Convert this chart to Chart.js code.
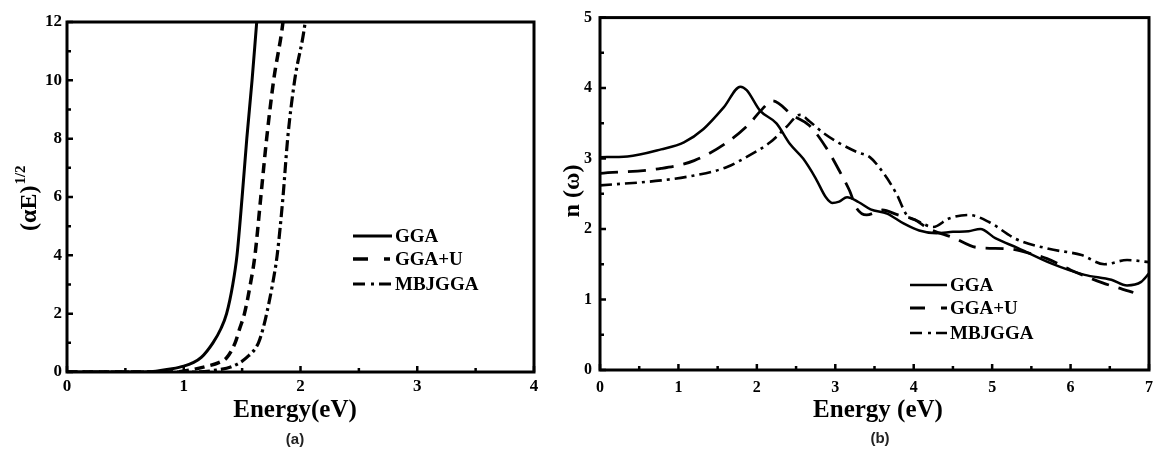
<!DOCTYPE html>
<html><head><meta charset="utf-8">
<script src="https://cdn.jsdelivr.net/npm/chart.js@4/dist/chart.umd.min.js"></script>
<style>
html,body{margin:0;padding:0;background:#fff;width:1161px;height:463px;overflow:hidden;}
canvas{position:absolute;top:0;}
.cap{position:absolute;font-family:"Liberation Sans",Arial,sans-serif;font-weight:bold;font-size:15px;color:#222;transform:translate(-50%,-50%);}
</style></head><body>
<canvas id="ca" width="560" height="463" style="left:0px"></canvas>
<canvas id="cb" width="601" height="463" style="left:560px"></canvas>
<div class="cap" style="left:295px;top:438px">(a)</div>
<div class="cap" style="left:880px;top:437px">(b)</div>
<script>
// ---------- Panel (a): (alpha E)^1/2 vs Energy ----------
const seriesNames = ['GGA', 'GGA+U', 'MBJGGA'];
const aXTicks = [0, 1, 2, 3, 4];
const aYTicks = [0, 2, 4, 6, 8, 10, 12];
const aGGA_E = [0, 0.5, 0.7, 0.8, 0.9, 1.0, 1.08, 1.15, 1.25, 1.32, 1.367, 1.42, 1.456, 1.5, 1.54, 1.585, 1.625, 1.65];
const aGGA_V = [0, 0, 0.01, 0.05, 0.11, 0.2, 0.32, 0.5, 1.0, 1.5, 2.0, 3.0, 4.0, 6.0, 8.0, 10.0, 12.0, 13.2];
const aGGAU_E = [0, 0.9, 1.03, 1.2, 1.3, 1.37, 1.44, 1.48, 1.52, 1.57, 1.61, 1.66, 1.71, 1.77, 1.85, 1.88];
const aGGAU_V = [0, 0, 0.05, 0.2, 0.32, 0.5, 1.0, 1.5, 2.0, 3.0, 4.0, 6.0, 8.0, 10.0, 12.0, 13.2];
const aMBJ_E = [0, 1.1, 1.25, 1.42, 1.54, 1.64, 1.68, 1.71, 1.76, 1.8, 1.85, 1.89, 1.95, 2.04, 2.07];
const aMBJ_V = [0, 0, 0.05, 0.2, 0.5, 1.0, 1.5, 2.0, 3.0, 4.0, 6.0, 8.0, 10.0, 12.0, 13.2];

// ---------- Panel (b): n(omega) vs Energy ----------
const bXTicks = [0, 1, 2, 3, 4, 5, 6, 7];
const bYTicks = [0, 1, 2, 3, 4, 5];
const bGGA_E = [0, 0.35, 0.78, 1.07, 1.32, 1.58, 1.79, 1.87, 2.04, 2.25, 2.42, 2.59, 2.75, 2.88, 2.96, 3.05, 3.15, 3.3, 3.45, 3.66, 3.87, 4.07, 4.29, 4.5, 4.7, 4.85, 5.04, 5.33, 5.76, 6.18, 6.52, 6.72, 6.9, 7.0];
const bGGA_N = [3.02, 3.03, 3.13, 3.23, 3.42, 3.73, 4.02, 3.97, 3.68, 3.5, 3.21, 3.0, 2.72, 2.45, 2.37, 2.39, 2.45, 2.38, 2.28, 2.22, 2.08, 1.98, 1.94, 1.96, 1.97, 2.0, 1.87, 1.73, 1.51, 1.35, 1.28, 1.2, 1.25, 1.37];
const bGGAU_E = [0, 0.78, 1.2, 1.62, 1.91, 2.05, 2.2, 2.46, 2.67, 2.88, 3.05, 3.18, 3.27, 3.4, 3.6, 3.8, 4.0, 4.2, 4.5, 4.8, 5.2, 5.5, 5.7, 6.0, 6.4, 6.8];
const bGGAU_N = [2.79, 2.86, 2.97, 3.23, 3.5, 3.68, 3.82, 3.61, 3.47, 3.16, 2.83, 2.55, 2.3, 2.2, 2.27, 2.2, 2.14, 2.0, 1.88, 1.74, 1.72, 1.65, 1.58, 1.42, 1.24, 1.1];
const bMBJ_E = [0, 0.78, 1.2, 1.62, 1.91, 2.17, 2.37, 2.55, 2.67, 2.84, 3.05, 3.28, 3.44, 3.61, 3.78, 3.91, 4.04, 4.25, 4.45, 4.7, 4.96, 5.3, 5.72, 6.14, 6.43, 6.72, 7.0];
const bMBJ_N = [2.62, 2.69, 2.76, 2.88, 3.05, 3.23, 3.44, 3.62, 3.53, 3.37, 3.22, 3.09, 3.02, 2.8, 2.5, 2.2, 2.12, 2.03, 2.15, 2.2, 2.1, 1.86, 1.72, 1.63, 1.5, 1.56, 1.53];

const SERIF = '"Liberation Serif","Times New Roman",serif';
const pts = (xs, ys) => xs.map((x, i) => ({x: x, y: ys[i]}));

function makeDataset(label, xs, ys, dash, width) {
  return {label: label, data: pts(xs, ys), borderColor: '#000', backgroundColor: '#000',
    borderWidth: width, borderDash: dash, pointRadius: 0, fill: false,
    cubicInterpolationMode: 'monotone', tension: 0.4, borderCapStyle: 'butt'};
}

// plugin: frame, inward ticks, custom legend, custom titles
const decor = {
  id: 'decor',
  afterDraw(chart, args, opts) {
    const ctx = chart.ctx, a = chart.chartArea;
    const xs = chart.scales.x, ys = chart.scales.y;
    ctx.save();
    ctx.strokeStyle = '#000';
    ctx.lineWidth = 3;
    ctx.strokeRect(a.left, a.top, a.right - a.left, a.bottom - a.top);
    ctx.lineWidth = 2.5;
    const xt = opts.xTicks, yt = opts.yTicks;
    ctx.beginPath();
    for (let i = 0; i < xt.length; i++) {
      const p = xs.getPixelForValue(xt[i]);
      ctx.moveTo(p, a.bottom); ctx.lineTo(p, a.bottom - 6);
      if (i < xt.length - 1) {
        const m = xs.getPixelForValue((xt[i] + xt[i + 1]) / 2);
        ctx.moveTo(m, a.bottom); ctx.lineTo(m, a.bottom - 4);
      }
    }
    for (let i = 0; i < yt.length; i++) {
      const p = ys.getPixelForValue(yt[i]);
      ctx.moveTo(a.left, p); ctx.lineTo(a.left + 6, p);
      if (i < yt.length - 1) {
        const m = ys.getPixelForValue((yt[i] + yt[i + 1]) / 2);
        ctx.moveTo(a.left, m); ctx.lineTo(a.left + 4, m);
      }
    }
    ctx.stroke();
    // legend
    const L = opts.legend;
    ctx.font = 'bold ' + L.size + 'px ' + SERIF;
    ctx.textBaseline = 'middle';
    ctx.textAlign = 'left';
    chart.data.datasets.forEach((ds, i) => {
      const y = L.ys[i];
      ctx.beginPath();
      ctx.setLineDash(L.dashes[i]);
      ctx.lineWidth = ds.borderWidth;
      ctx.moveTo(L.x0, y); ctx.lineTo(L.x1, y);
      ctx.stroke();
      ctx.setLineDash([]);
      ctx.fillStyle = '#000';
      ctx.fillText(ds.label, L.x1 + 3, y + 1);
    });
    // x title
    ctx.font = 'bold 25px ' + SERIF;
    ctx.textAlign = 'center';
    ctx.textBaseline = 'middle';
    ctx.fillText(opts.xTitle.text, opts.xTitle.cx, opts.xTitle.cy);
    // y title (with optional superscript)
    const t = opts.yTitle;
    ctx.translate(t.cx, t.cy);
    ctx.rotate(-Math.PI / 2);
    ctx.font = 'bold 24px ' + SERIF;
    ctx.textAlign = t.sup ? 'left' : 'center';
    ctx.textBaseline = 'middle';
    ctx.fillText(t.main, 0, 0);
    if (t.sup) {
      const w = ctx.measureText(t.main).width;
      ctx.font = 'bold 15px ' + SERIF;
      ctx.fillText(t.sup, w + 1, -9);
    }
    ctx.restore();
  }
};

function baseOptions(cfg) {
  return {
    responsive: false, animation: false, devicePixelRatio: 1,
    layout: {padding: cfg.padding},
    plugins: {legend: {display: false}, tooltip: {enabled: false}, decor: cfg.decor},
    scales: {
      x: {type: 'linear', min: cfg.xmin, max: cfg.xmax,
        afterBuildTicks: s => { s.ticks = cfg.xTicks.map(v => ({value: v})); },
        afterFit: s => { s.height = cfg.xh; },
        grid: {display: false, drawTicks: false}, border: {display: false},
        ticks: {padding: cfg.xpad, color: '#000', font: {family: SERIF, weight: 'bold', size: cfg.tickSize}}},
      y: {type: 'linear', min: cfg.ymin, max: cfg.ymax,
        afterBuildTicks: s => { s.ticks = cfg.yTicks.map(v => ({value: v})); },
        afterFit: s => { s.width = cfg.yw; },
        grid: {display: false, drawTicks: false}, border: {display: false},
        ticks: {padding: cfg.ypad, color: '#000', font: {family: SERIF, weight: 'bold', size: cfg.tickSize}}}
    }
  };
}

new Chart(document.getElementById('ca'), {
  type: 'line',
  data: {datasets: [
    makeDataset(seriesNames[0], aGGA_E, aGGA_V, [], 3),
    makeDataset(seriesNames[1], aGGAU_E, aGGAU_V, [10, 6], 3.5),
    makeDataset(seriesNames[2], aMBJ_E, aMBJ_V, [11, 4, 3, 4], 3.2)
  ]},
  options: baseOptions({
    padding: {left: 0, top: 22, right: 26, bottom: 0},
    xmin: 0, xmax: 4, ymin: 0, ymax: 12, xTicks: aXTicks, yTicks: aYTicks,
    xh: 91, yw: 67, xpad: 4, ypad: 5, tickSize: 17,
    decor: {xTicks: aXTicks, yTicks: aYTicks,
      legend: {x0: 353, x1: 392, ys: [236, 259, 284], size: 19, dashes: [[], [15, 16, 6, 20], [12, 6, 3, 5, 12, 20]]},
      xTitle: {text: 'Energy(eV)', cx: 295, cy: 411},
      yTitle: {cx: 30, cy: 231, main: '(αE)', sup: '1/2'}}
  }),
  plugins: [decor]
});

new Chart(document.getElementById('cb'), {
  type: 'line',
  data: {datasets: [
    makeDataset(seriesNames[0], bGGA_E, bGGA_N, [], 2.5),
    makeDataset(seriesNames[1], bGGAU_E, bGGAU_N, [18, 10], 2.8),
    makeDataset(seriesNames[2], bMBJ_E, bMBJ_N, [12, 5, 3, 5], 2.6)
  ]},
  options: baseOptions({
    padding: {left: 0, top: 17, right: 6, bottom: 0},
    xmin: 0, xmax: 7, ymin: 0, ymax: 5, xTicks: bXTicks, yTicks: bYTicks,
    xh: 93, yw: 40, xpad: 8, ypad: 8, tickSize: 16,
    decor: {xTicks: bXTicks, yTicks: bYTicks,
      legend: {x0: 350, x1: 387, ys: [285, 308, 333], size: 19, dashes: [[], [15, 16, 6, 20], [12, 6, 3, 5, 12, 20]]},
      xTitle: {text: 'Energy (eV)', cx: 318, cy: 411},
      yTitle: {cx: 13, cy: 191, main: 'n (ω)', sup: null}}
  }),
  plugins: [decor]
});
</script>
</body></html>
